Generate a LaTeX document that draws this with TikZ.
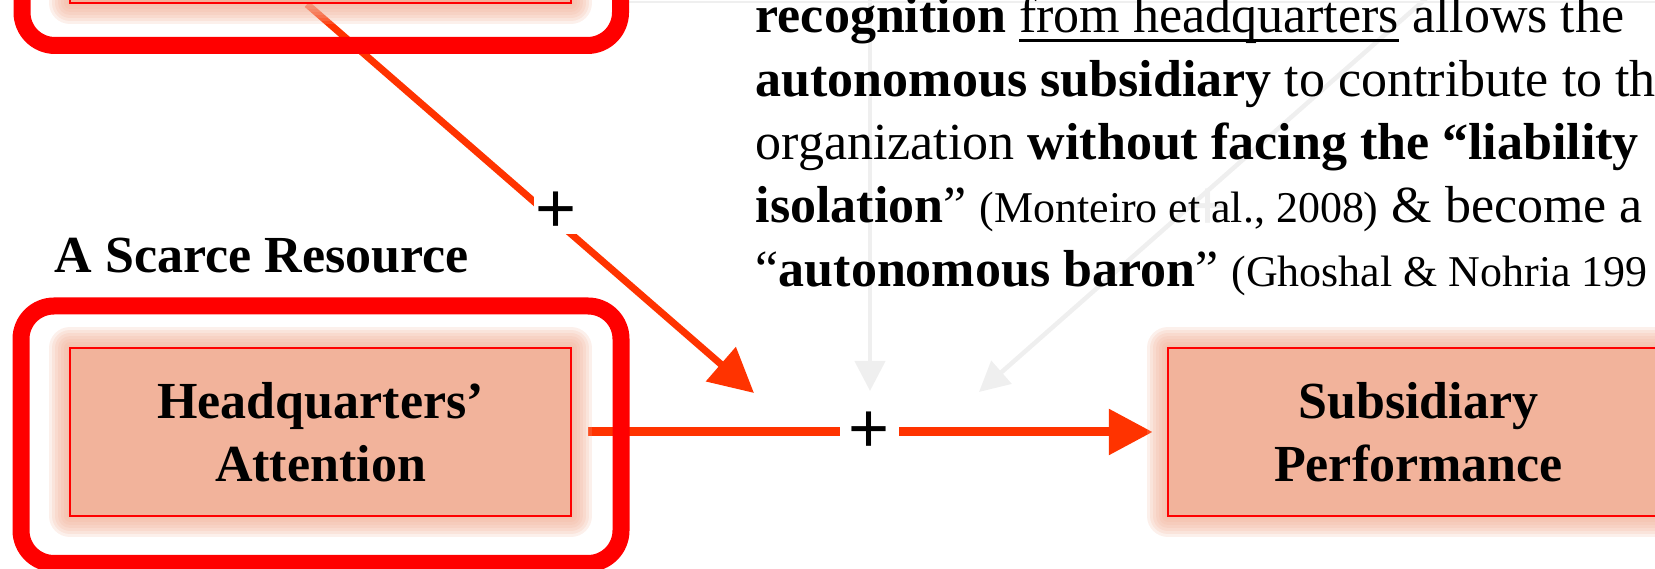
\documentclass[tikz,border=0pt]{standalone}
\usepackage{fontspec}
\setmainfont{Liberation Serif}
\newfontfamily\plusfont{Liberation Sans}
\usetikzlibrary{arrows.meta,positioning}

\definecolor{boxfill}{HTML}{F2B39B}
\definecolor{boxred}{HTML}{FF0000}
\definecolor{linkred}{HTML}{FF3300}
\definecolor{ghost}{HTML}{EFEFEF}

\pgfdeclarelayer{bg}
\pgfsetlayers{bg,main}

\newcommand{\bodysize}{\fontsize{14.8}{17.9}\selectfont}
\newcommand{\citesize}{\fontsize{12.5}{15}\selectfont}
% underline at a fixed depth, through the descenders
\newcommand{\ulined}[1]{\setbox0\hbox{#1}\rlap{\rule[-2.6pt]{\wd0}{0.75pt}}\box0\relax}

\tikzset{
  halo/.style={preaction={draw=boxfill, draw opacity=.2, line width=#1, line join=round}},
  factor/.style={draw=boxred, line width=0.25mm, fill=boxfill,
    minimum width=50.1mm, minimum height=16.8mm, align=center,
    font=\bodysize\bfseries,
    halo=4.2mm, halo=3.6mm, halo=3mm, halo=2.4mm, halo=1.8mm, halo=1.2mm, halo=.6mm},
  frame/.style={draw=boxred, line width=1.7mm, rounded corners=3.3mm},
  link/.style={draw=linkred, -{Triangle[length=4.4mm,width=4.4mm]}},
  ghostlink/.style={draw=ghost, line width=.45mm, -{Triangle[length=3mm,width=3mm]}},
  plus/.style={fill=white, font=\plusfont\fontsize{20}{20}\selectfont},
  txt/.style={anchor=base west, inner sep=0pt, font=\bodysize}
}

\begin{document}
\begin{tikzpicture}[x=0.1mm, y=-0.1mm]
\useasboundingbox (0,0) rectangle (1655,569);
\clip (0,0) rectangle (1655,569);

% factors
\node[factor] (upper) at (320.5,-81) {};
\node[factor] (hqatt) at (320.5,432) {Headquarters’\\Attention};
\node[factor] (subperf) at (1418.5,432) {Subsidiary\\Performance};

% thick red frames
\draw[frame] (22,-250) rectangle (620.5,45.5);
\draw[frame] (21,306) rectangle (621,563.5);

\node[txt, font=\bodysize\bfseries] (scarce) at (54,273) {A Scarce Resource};

% explanation
\node[txt] (l1) at (755,33) {\textbf{recognition} \ulined{from headquarters} allows the};
\node[txt] (l2) at (755,96.5) {\textbf{autonomous subsidiary} to contribute to th};
\node[txt] (l3) at (755,160) {organization \textbf{without facing the “liability}};
\node[txt] (l4) at (755,223) {\textbf{isolation}” {\citesize(Monteiro et al., 2008)} \& become a};
\node[txt] (l5) at (755,287) {“\textbf{autonomous baron}” {\citesize(Ghoshal \& Nohria 199}};

\coordinate (modtip) at (754,393);
\coordinate (gv) at (870,-5);
\coordinate (gvtip) at (870,391);
\coordinate (gd) at (1430,-5);
\coordinate (gdtip) at (979,392);

\begin{pgfonlayer}{bg}
% faded links
\draw[ghost, line width=.25mm] (629,2) -- (1660,2);
\draw[ghostlink] (gv) -- (gvtip);
\draw[ghostlink] (gd) -- node[pos=.54, xshift=2.2mm, text=ghost, font=\plusfont\fontsize{20}{20}\selectfont] {+} (gdtip);

% moderation and main effect
\draw[link, line width=.7mm] ([xshift=-1.35mm]upper.south) -- node[plus, pos=.535, xshift=1mm, inner sep=.5pt] {+} (modtip);
\draw[link, line width=.9mm, shorten <=1.6mm, shorten >=1.4mm] (hqatt.east) -- node[plus, inner sep=2.5pt] {+} (subperf.west);
\end{pgfonlayer}
\end{tikzpicture}
\end{document}
